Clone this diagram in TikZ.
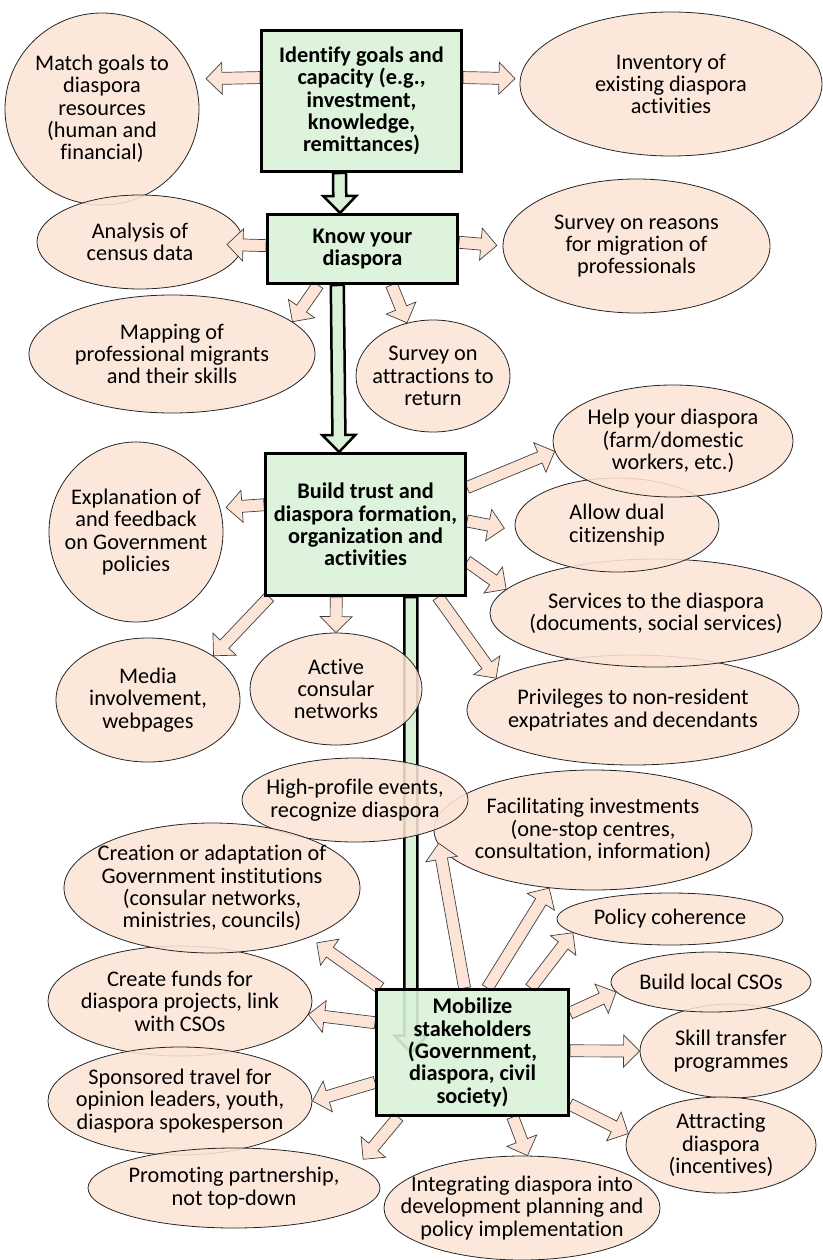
\documentclass[tikz,border=0pt]{standalone}
\usepackage{fontspec}
\setmainfont{Carlito}[Ligatures=NoCommon]
\usepackage{xcolor}
\usetikzlibrary{shapes.geometric,calc}

\definecolor{peach}{RGB}{252,228,214}
\definecolor{mint}{RGB}{217,242,215}

\pgfdeclarelayer{under}
\pgfdeclarelayer{over}
\pgfsetlayers{under,main,over}

\newcommand\bigfont{\fontsize{22.3pt}{22.4pt}\selectfont}

% block arrow: style, shaft half width, head half width, head length, length (0 = up to target), from, towards
\newcommand\blockarrow[7]{%
  \draw[#1] let \p1=(#6), \p2=(#7),
      \n1={atan2(\y2-\y1,\x2-\x1)},
      \n2={#5>0 ? #5*1pt : veclen(\x2-\x1,\y2-\y1)},
      \n3={\n2-#4pt} in
    ($(\p1)+(\n1+90:#2pt)$) -- ($(\p1)+(\n1:\n3)+(\n1+90:#2pt)$)
    -- ($(\p1)+(\n1:\n3)+(\n1+90:#3pt)$) -- ($(\p1)+(\n1:\n2)$)
    -- ($(\p1)+(\n1:\n3)+(\n1-90:#3pt)$) -- ($(\p1)+(\n1:\n3)+(\n1-90:#2pt)$)
    -- ($(\p1)+(\n1-90:#2pt)$) -- cycle;}
\newcommand\peacharrow[3][0]{\blockarrow{smallarrow}{6}{16}{16}{#1}{#2}{#3}}
\newcommand\greenarrow[3][0]{\blockarrow{bigarrow}{6.5}{16.5}{17}{#1}{#2}{#3}}

\begin{document}
\begin{tikzpicture}[x=1pt, y=-1pt]
    \tikzstyle{stage} = [rectangle, draw, line width=3pt, fill=mint, fill opacity=0.9, text opacity=1, align=center, inner sep=2pt, font=\bigfont\bfseries]
    \tikzstyle{bubble} = [ellipse, draw=black!85, line width=0.8pt, fill=peach, fill opacity=0.88, text opacity=1, align=center, inner sep=-60pt, font=\bigfont]
    \tikzstyle{smallarrow} = [draw=black!75, line width=0.7pt, fill=peach]
    \tikzstyle{bigarrow} = [draw=black, line width=2.5pt, fill=mint]

    \useasboundingbox (0,0) rectangle (822,1260);

    % the four stages
    \begin{pgfonlayer}{over}
    \node [stage, minimum width=200pt, minimum height=141pt] (goals) at (361.5,101) {Identify goals and\\capacity (e.g.,\\investment,\\knowledge,\\remittances)};
    \node [stage, minimum width=190pt, minimum height=69pt] (know) at (362.5,249) {Know your\\diaspora};
    \node [stage, minimum width=200pt, minimum height=142pt] (build) at (365.5,524.5) {Build trust and\\diaspora formation,\\organization and\\activities};
    \node [stage, minimum width=192pt, minimum height=126pt] (mobil) at (472.5,1052.5) {Mobilize\\stakeholders\\(Government,\\diaspora, civil\\society)};
    \end{pgfonlayer}

    % actions
    \node [bubble, minimum width=194pt, minimum height=192pt] (match) at (102,109) {Match goals to\\diaspora\\resources\\(human and\\financial)};
    \node [bubble, minimum width=206pt, minimum height=94pt] (census) at (140,242) {Analysis of\\census data};
    \node [bubble, minimum width=302pt, minimum height=144pt] (inventory) at (671,84) {Inventory of\\existing diaspora\\activities};
    \node [bubble, minimum width=267pt, minimum height=134pt] (reasons) at (636.5,246) {Survey on reasons\\for migration of\\professionals};
    \node [bubble, minimum width=286pt, minimum height=118pt] (mapping) at (172,354) {Mapping of\\professional migrants\\and their skills};
    \node [bubble, minimum width=154pt, minimum height=112pt] (attract) at (433,376) {Survey on\\attractions to\\return};
    \node [bubble, minimum width=332pt, minimum height=110pt] (privileges) at (633,710) {Privileges to non-resident\\expatriates and decendants};
    \node [bubble, minimum width=332pt, minimum height=108pt] (services) at (656,613) {Services to the diaspora\\(documents, social services)};
    \node [bubble, minimum width=204pt, minimum height=94pt] (dual) at (617,525) {Allow dual\\citizenship};
    \node [bubble, minimum width=240pt, minimum height=112pt] (help) at (673,441) {Help your diaspora\\(farm/domestic\\workers, etc.)};
    \node [bubble, minimum width=174pt, minimum height=180pt] (explain) at (136,532) {Explanation of\\and feedback\\on Government\\policies};
    \node [bubble, minimum width=184pt, minimum height=124pt] (media) at (148,700) {Media\\involvement,\\webpages};
    \node [bubble, minimum width=172pt, minimum height=112pt] (consular) at (336,689) {Active\\consular\\networks};
    \node [bubble, minimum width=318pt, minimum height=120pt] (facil) at (593,830) {Facilitating investments\\(one-stop centres,\\consultation, information)};
    \node [bubble, minimum width=226pt, minimum height=84pt] (highprofile) at (355,800) {High-profile events,\\recognize diaspora};
    \node [bubble, minimum width=264pt, minimum height=110pt] (funds) at (180,1001) {Create funds for\\diaspora projects, link\\with CSOs};
    \node [bubble, minimum width=296pt, minimum height=130pt] (institutions) at (212,888) {Creation or adaptation of\\Government institutions\\(consular networks,\\ministries, councils)};
    \node [bubble, minimum width=264pt, minimum height=108pt] (sponsored) at (180,1101) {Sponsored travel for\\opinion leaders, youth,\\diaspora spokesperson};
    \node [bubble, minimum width=292pt, minimum height=80pt] (promoting) at (234,1188) {Promoting partnership,\\not top-down};
    \node [bubble, minimum width=226pt, minimum height=52pt] (policy) at (670,919) {Policy coherence};
    \node [bubble, minimum width=182pt, minimum height=94pt] (skill) at (731,1051) {Skill transfer\\programmes};
    \node [bubble, minimum width=200pt, minimum height=60pt] (local) at (711,982) {Build local CSOs};
    \node [bubble, minimum width=190pt, minimum height=96pt] (attracting) at (721,1145) {Attracting\\diaspora\\(incentives)};
    \node [bubble, minimum width=276pt, minimum height=104pt] (integrating) at (522,1208) {Integrating diaspora into\\development planning and\\policy implementation};

    % main flow
    \begin{pgfonlayer}{under}
    \greenarrow{goals.253.4}{know.122}
    \greenarrow{know.235.8}{build.110.8}
    \greenarrow{build.302.1}{build.302.1 |- mobil.center}
    \end{pgfonlayer}

    % goals and knowing
    \peacharrow[54]{goals.167}{match.18}
    \peacharrow[52]{goals.13}{inventory.178}
    \peacharrow[39]{know.178}{census}
    \peacharrow[38]{know.4}{reasons.west}
    \peacharrow{know.219}{mapping.15}
    \peacharrow{know.309.3}{attract.116}

    % trust
    \peacharrow[38]{build.169.7}{explain.16}
    \peacharrow{build.217.5}{media.34.7}
    \peacharrow{build.248.5}{consular.north}
    \peacharrow{build.20.8}{help.185}
    \peacharrow[38]{build.2.5}{dual.183}
    \peacharrow{build.340.7}{services.171}
    \peacharrow{build.315}{privileges.167}

    % mobilization
    \peacharrow[147]{mobil.97.5}{highprofile.340}
    \peacharrow{mobil.77.3}{facil.233.4}
    \peacharrow{mobil.48.3}{policy.188.4}
    \peacharrow{mobil.22.6}{local.186}
    \peacharrow{mobil.1.5}{skill.west}
    \peacharrow{mobil.332.6}{attracting.173.4}
    \peacharrow{mobil.302.1}{integrating.84.7}
    \peacharrow[55]{mobil.221.7}{promoting.10.2}
    \peacharrow{mobil.197.9}{sponsored.east}
    \peacharrow{mobil.163.7}{funds.354.1}
    \peacharrow[78]{mobil.145.1}{institutions.333}
\end{tikzpicture}
\end{document}
